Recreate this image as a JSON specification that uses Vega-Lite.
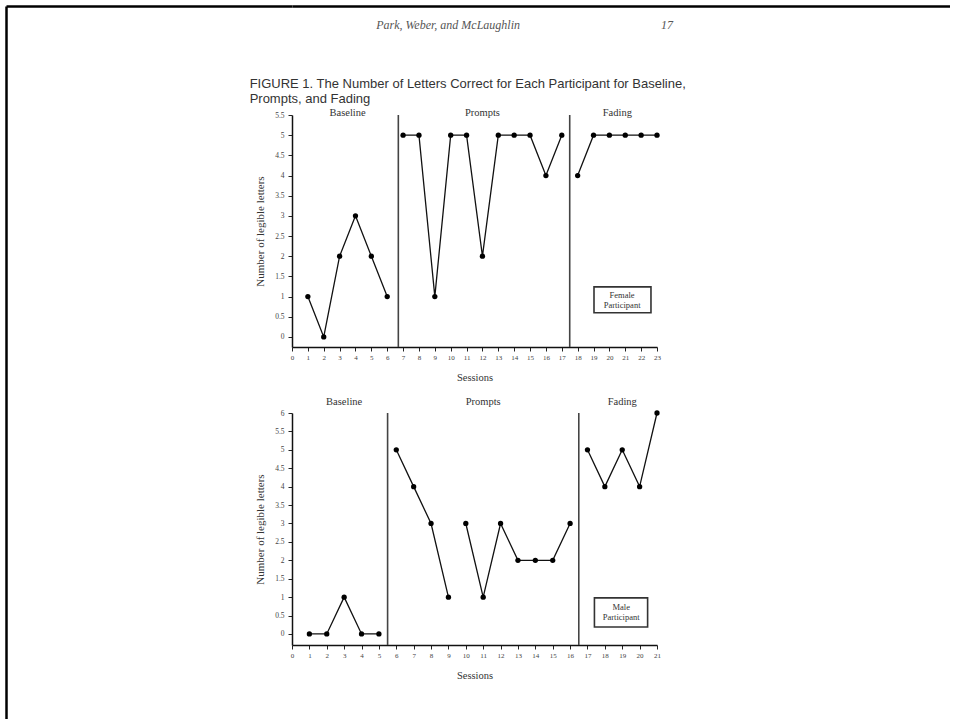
{
  "$schema": "https://vega.github.io/schema/vega-lite/v6.json",
  "padding": {"left": 6, "top": 6, "right": 0, "bottom": 0},
  "background": "white",
  "spacing": 0,
  "bounds": "flush",
  "config": {
    "view": {"stroke": null},
    "font": "Liberation Serif",
    "numberFormat": "~g",
    "axis": {
      "grid": false,
      "domainColor": "#111",
      "domainWidth": 1.5,
      "tickColor": "#222",
      "tickSize": 4,
      "tickWidth": 1,
      "labelFont": "Liberation Serif",
      "labelFontSize": 7.5,
      "labelColor": "#444",
      "labelFlush": false,
      "labelOverlap": false,
      "titleFont": "Liberation Serif",
      "titleFontSize": 10.5,
      "titleFontWeight": "normal",
      "titleColor": "#333"
    },
    "axisX": {"tickCount": 23, "labelFontSize": 7, "labelPadding": 2, "titlePadding": 12},
    "axisY": {"tickCount": 12, "labelPadding": 4, "titlePadding": 9, "titleFontSize": 11}
  },
  "datasets": {
    "sessions": [
      {"participant": "Female", "session": 1, "letters": 1, "phase": "Baseline", "segment": "Baseline"},
      {"participant": "Female", "session": 2, "letters": 0, "phase": "Baseline", "segment": "Baseline"},
      {"participant": "Female", "session": 3, "letters": 2, "phase": "Baseline", "segment": "Baseline"},
      {"participant": "Female", "session": 4, "letters": 3, "phase": "Baseline", "segment": "Baseline"},
      {"participant": "Female", "session": 5, "letters": 2, "phase": "Baseline", "segment": "Baseline"},
      {"participant": "Female", "session": 6, "letters": 1, "phase": "Baseline", "segment": "Baseline"},
      {"participant": "Female", "session": 7, "letters": 5, "phase": "Prompts", "segment": "Prompts"},
      {"participant": "Female", "session": 8, "letters": 5, "phase": "Prompts", "segment": "Prompts"},
      {"participant": "Female", "session": 9, "letters": 1, "phase": "Prompts", "segment": "Prompts"},
      {"participant": "Female", "session": 10, "letters": 5, "phase": "Prompts", "segment": "Prompts"},
      {"participant": "Female", "session": 11, "letters": 5, "phase": "Prompts", "segment": "Prompts"},
      {"participant": "Female", "session": 12, "letters": 2, "phase": "Prompts", "segment": "Prompts"},
      {"participant": "Female", "session": 13, "letters": 5, "phase": "Prompts", "segment": "Prompts"},
      {"participant": "Female", "session": 14, "letters": 5, "phase": "Prompts", "segment": "Prompts"},
      {"participant": "Female", "session": 15, "letters": 5, "phase": "Prompts", "segment": "Prompts"},
      {"participant": "Female", "session": 16, "letters": 4, "phase": "Prompts", "segment": "Prompts"},
      {"participant": "Female", "session": 17, "letters": 5, "phase": "Prompts", "segment": "Prompts"},
      {"participant": "Female", "session": 18, "letters": 4, "phase": "Fading", "segment": "Fading"},
      {"participant": "Female", "session": 19, "letters": 5, "phase": "Fading", "segment": "Fading"},
      {"participant": "Female", "session": 20, "letters": 5, "phase": "Fading", "segment": "Fading"},
      {"participant": "Female", "session": 21, "letters": 5, "phase": "Fading", "segment": "Fading"},
      {"participant": "Female", "session": 22, "letters": 5, "phase": "Fading", "segment": "Fading"},
      {"participant": "Female", "session": 23, "letters": 5, "phase": "Fading", "segment": "Fading"},
      {"participant": "Male", "session": 1, "letters": 0, "phase": "Baseline", "segment": "Baseline"},
      {"participant": "Male", "session": 2, "letters": 0, "phase": "Baseline", "segment": "Baseline"},
      {"participant": "Male", "session": 3, "letters": 1, "phase": "Baseline", "segment": "Baseline"},
      {"participant": "Male", "session": 4, "letters": 0, "phase": "Baseline", "segment": "Baseline"},
      {"participant": "Male", "session": 5, "letters": 0, "phase": "Baseline", "segment": "Baseline"},
      {"participant": "Male", "session": 6, "letters": 5, "phase": "Prompts", "segment": "Prompts A"},
      {"participant": "Male", "session": 7, "letters": 4, "phase": "Prompts", "segment": "Prompts A"},
      {"participant": "Male", "session": 8, "letters": 3, "phase": "Prompts", "segment": "Prompts A"},
      {"participant": "Male", "session": 9, "letters": 1, "phase": "Prompts", "segment": "Prompts A"},
      {"participant": "Male", "session": 10, "letters": 3, "phase": "Prompts", "segment": "Prompts B"},
      {"participant": "Male", "session": 11, "letters": 1, "phase": "Prompts", "segment": "Prompts B"},
      {"participant": "Male", "session": 12, "letters": 3, "phase": "Prompts", "segment": "Prompts B"},
      {"participant": "Male", "session": 13, "letters": 2, "phase": "Prompts", "segment": "Prompts B"},
      {"participant": "Male", "session": 14, "letters": 2, "phase": "Prompts", "segment": "Prompts B"},
      {"participant": "Male", "session": 15, "letters": 2, "phase": "Prompts", "segment": "Prompts B"},
      {"participant": "Male", "session": 16, "letters": 3, "phase": "Prompts", "segment": "Prompts B"},
      {"participant": "Male", "session": 17, "letters": 5, "phase": "Fading", "segment": "Fading"},
      {"participant": "Male", "session": 18, "letters": 4, "phase": "Fading", "segment": "Fading"},
      {"participant": "Male", "session": 19, "letters": 5, "phase": "Fading", "segment": "Fading"},
      {"participant": "Male", "session": 20, "letters": 4, "phase": "Fading", "segment": "Fading"},
      {"participant": "Male", "session": 21, "letters": 6, "phase": "Fading", "segment": "Fading"}
    ],
    "phaseLines": [
      {"participant": "Female", "session": 6.7},
      {"participant": "Female", "session": 17.5},
      {"participant": "Male", "session": 5.5},
      {"participant": "Male", "session": 16.5}
    ]
  },
  "hconcat": [
    {
      "width": 286,
      "height": 713,
      "data": {"values": []},
      "mark": "point",
      "encoding": {
        "x": {"field": "a", "type": "quantitative", "scale": {"domain": [0, 1]}, "axis": {"orient": "top", "domain": true, "domainColor": "#000", "domainWidth": 2.5, "ticks": false, "labels": false, "title": null}},
        "y": {"field": "b", "type": "quantitative", "scale": {"domain": [0, 1]}, "axis": {"orient": "left", "domain": true, "domainColor": "#000", "domainWidth": 2.5, "ticks": false, "labels": false, "title": null}}
      }
    },
    {
      "spacing": 108,
      "bounds": "flush",
      "vconcat": [
        {
          "width": 658,
          "height": 1,
          "data": {"values": []},
          "mark": "point",
          "encoding": {
            "x": {"field": "a", "type": "quantitative", "scale": {"domain": [0, 1]}, "axis": {"orient": "top", "domain": true, "domainColor": "#000", "domainWidth": 2.5, "ticks": false, "labels": false, "title": null}}
          }
        },
        {
          "spacing": 66,
          "bounds": "flush",
          "title": {
            "text": "Park, Weber, and McLaughlin\u00a0\u00a0\u00a0\u00a0\u00a0\u00a0\u00a0\u00a0\u00a0\u00a0\u00a0\u00a0\u00a0\u00a0\u00a0\u00a0\u00a0\u00a0\u00a0\u00a0\u00a0\u00a0\u00a0\u00a0\u00a0\u00a0\u00a0\u00a0\u00a0\u00a0\u00a0\u00a0\u00a0\u00a0\u00a0\u00a0\u00a0\u00a0\u00a0\u00a0\u00a0\u00a0\u00a0\u00a0\u00a0\u00a0\u00a017",
            "anchor": "end",
            "frame": "bounds",
            "font": "Liberation Serif",
            "fontStyle": "italic",
            "fontSize": 12,
            "fontWeight": "normal",
            "color": "#555",
            "offset": 46,
            "dx": -13
          },
          "vconcat": [
            {
              "width": 365,
              "height": 232,
              "title": {
                "text": ["FIGURE 1. The Number of Letters Correct for Each Participant for Baseline,", "Prompts, and Fading"],
                "anchor": "start",
                "frame": "bounds",
                "font": "Liberation Sans",
                "fontSize": 13,
                "fontWeight": "normal",
                "color": "#333",
                "lineHeight": 15,
                "offset": 2,
                "dx": -5
              },
              "layer": [
                {
                  "data": {"name": "phaseLines"},
                  "transform": [{"filter": "datum.participant === 'Female'"}],
                  "mark": {"type": "rule", "color": "#444", "strokeWidth": 1.6},
                  "encoding": {
                    "x": {"field": "session", "type": "quantitative", "scale": {"domain": [0, 23], "nice": false, "zero": false}}
                  }
                },
                {
                  "data": {"name": "sessions"},
                  "transform": [{"filter": "datum.participant === 'Female'"}],
                  "mark": {"type": "line", "color": "#111", "strokeWidth": 1.3},
                  "encoding": {
                    "x": {
                      "field": "session",
                      "type": "quantitative",
                      "scale": {"domain": [0, 23], "nice": false, "zero": false},
                      "axis": {"title": "Sessions"}
                    },
                    "y": {
                      "field": "letters",
                      "type": "quantitative",
                      "scale": {"domain": [-0.25, 5.5], "nice": false, "zero": false},
                      "axis": {"title": "Number of legible letters"}
                    },
                    "detail": {"field": "segment"}
                  }
                },
                {
                  "data": {"name": "sessions"},
                  "transform": [{"filter": "datum.participant === 'Female'"}],
                  "mark": {"type": "point", "filled": true, "color": "#000", "size": 28, "opacity": 1},
                  "encoding": {
                    "x": {"field": "session", "type": "quantitative", "scale": {"domain": [0, 23], "nice": false, "zero": false}},
                    "y": {"field": "letters", "type": "quantitative", "scale": {"domain": [-0.25, 5.5], "nice": false, "zero": false}}
                  }
                },
                {
                  "data": {"name": "sessions"},
                  "transform": [
                    {"filter": "datum.participant === 'Female'"},
                    {"aggregate": [{"op": "mean", "field": "session", "as": "session"}], "groupby": ["phase"]}
                  ],
                  "mark": {"type": "text", "fontSize": 10.5, "color": "#333", "baseline": "middle"},
                  "encoding": {
                    "x": {"field": "session", "type": "quantitative", "scale": {"domain": [0, 23], "nice": false, "zero": false}},
                    "y": {"datum": 5.55, "type": "quantitative"},
                    "text": {"field": "phase"}
                  }
                },
                {
                  "data": {"values": [{"label": "Female Participant"}]},
                  "mark": {"type": "rect", "fill": "white", "stroke": "#333", "strokeWidth": 1.6},
                  "encoding": {
                    "x": {"datum": 19.03, "type": "quantitative"},
                    "x2": {"datum": 22.62},
                    "y": {"datum": 1.24, "type": "quantitative"},
                    "y2": {"datum": 0.6}
                  }
                },
                {
                  "data": {"values": [{"label": "Female Participant"}]},
                  "mark": {"type": "text", "lineBreak": " ", "fontSize": 8.5, "lineHeight": 10, "color": "#333", "baseline": "middle"},
                  "encoding": {
                    "x": {"datum": 20.8, "type": "quantitative"},
                    "y": {"datum": 1.04, "type": "quantitative"},
                    "text": {"field": "label", "type": "nominal"}
                  }
                }
              ]
            },
            {
              "width": 365,
              "height": 232,
              "layer": [
                {
                  "data": {"name": "phaseLines"},
                  "transform": [{"filter": "datum.participant === 'Male'"}],
                  "mark": {"type": "rule", "color": "#444", "strokeWidth": 1.6},
                  "encoding": {
                    "x": {"field": "session", "type": "quantitative", "scale": {"domain": [0, 21], "nice": false, "zero": false}}
                  }
                },
                {
                  "data": {"name": "sessions"},
                  "transform": [{"filter": "datum.participant === 'Male'"}],
                  "mark": {"type": "line", "color": "#111", "strokeWidth": 1.3},
                  "encoding": {
                    "x": {
                      "field": "session",
                      "type": "quantitative",
                      "scale": {"domain": [0, 21], "nice": false, "zero": false},
                      "axis": {"title": "Sessions"}
                    },
                    "y": {
                      "field": "letters",
                      "type": "quantitative",
                      "scale": {"domain": [-0.3, 6], "nice": false, "zero": false},
                      "axis": {"title": "Number of legible letters"}
                    },
                    "detail": {"field": "segment"}
                  }
                },
                {
                  "data": {"name": "sessions"},
                  "transform": [{"filter": "datum.participant === 'Male'"}],
                  "mark": {"type": "point", "filled": true, "color": "#000", "size": 28, "opacity": 1},
                  "encoding": {
                    "x": {"field": "session", "type": "quantitative", "scale": {"domain": [0, 21], "nice": false, "zero": false}},
                    "y": {"field": "letters", "type": "quantitative", "scale": {"domain": [-0.3, 6], "nice": false, "zero": false}}
                  }
                },
                {
                  "data": {"name": "sessions"},
                  "transform": [
                    {"filter": "datum.participant === 'Male'"},
                    {"aggregate": [{"op": "mean", "field": "session", "as": "session"}], "groupby": ["phase"]}
                  ],
                  "mark": {"type": "text", "fontSize": 10.5, "color": "#333", "baseline": "middle"},
                  "encoding": {
                    "x": {"field": "session", "type": "quantitative", "scale": {"domain": [0, 21], "nice": false, "zero": false}},
                    "y": {"datum": 6.3, "type": "quantitative"},
                    "text": {"field": "phase"}
                  }
                },
                {
                  "data": {"values": [{"label": "Male Participant"}]},
                  "mark": {"type": "rect", "fill": "white", "stroke": "#333", "strokeWidth": 1.6},
                  "encoding": {
                    "x": {"datum": 17.4, "type": "quantitative"},
                    "x2": {"datum": 20.46},
                    "y": {"datum": 0.98, "type": "quantitative"},
                    "y2": {"datum": 0.19}
                  }
                },
                {
                  "data": {"values": [{"label": "Male Participant"}]},
                  "mark": {"type": "text", "lineBreak": " ", "fontSize": 8.5, "lineHeight": 10, "color": "#333", "baseline": "middle"},
                  "encoding": {
                    "x": {"datum": 18.94, "type": "quantitative"},
                    "y": {"datum": 0.74, "type": "quantitative"},
                    "text": {"field": "label", "type": "nominal"}
                  }
                }
              ]
            }
          ]
        }
      ]
    }
  ]
}
